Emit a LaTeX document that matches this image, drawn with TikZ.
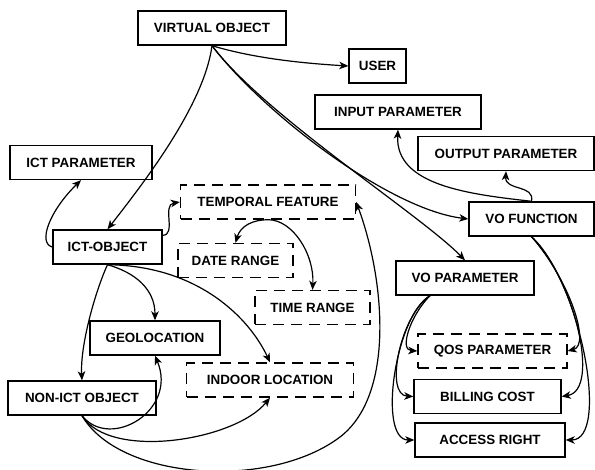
\documentclass[tikz,border=0pt]{standalone}
\usepackage{fontspec}
\setmainfont{Liberation Sans}
\usetikzlibrary{arrows.meta}

\begin{document}
\begin{tikzpicture}[x=1pt, y=-1pt,
    every node/.style={font=\fontsize{13.4}{16}\selectfont\bfseries},
    box/.style={draw, line width=1.4pt, minimum height=34pt, inner sep=0pt},
    dbox/.style={box, dash pattern=on 11pt off 7pt},
    link/.style={line width=1.2pt, -{Stealth[length=9pt, width=7.5pt, inset=2.5pt]}},
]
\useasboundingbox (0, 0) rectangle (595, 470);

% the objects
\node[box, minimum width=148pt] (vo) at (212, 28) {VIRTUAL OBJECT};
\node[box, minimum width=57pt] (user) at (377.5, 66) {USER};
\node[box, minimum width=166pt] (inp) at (398, 112) {INPUT PARAMETER};
\node[box, minimum width=176pt] (outp) at (506, 153.5) {OUTPUT PARAMETER};
\node[box, minimum width=142pt] (ictp) at (81, 162.5) {ICT PARAMETER};
\node[dbox, minimum width=175pt] (tf) at (268, 202) {TEMPORAL FEATURE};
\node[box, minimum width=125pt] (vof) at (531.5, 219) {VO FUNCTION};
\node[box, minimum width=109pt] (ict) at (107.5, 247) {ICT-OBJECT};
\node[dbox, minimum width=115pt] (date) at (235.5, 260.5) {DATE RANGE};
\node[dbox, minimum width=115pt] (time) at (312.5, 307.5) {TIME RANGE};
\node[box, minimum width=138pt] (vop) at (465, 278) {VO PARAMETER};
\node[box, minimum width=130pt] (geo) at (155, 338) {GEOLOCATION};
\node[dbox, minimum width=167pt] (indoor) at (270, 380) {INDOOR LOCATION};
\node[dbox, minimum width=149pt] (qos) at (492.5, 351) {QOS PARAMETER};
\node[box, minimum width=148pt] (nict) at (82, 398) {NON-ICT OBJECT};
\node[box, minimum width=147pt] (bill) at (487.5, 396.5) {BILLING COST};
\node[box, minimum width=150pt] (acc) at (490, 440) {ACCESS RIGHT};

% virtual object
\draw[link] (vo.south) .. controls +(40,12) and +(-50,-3) .. (user.west);
\draw[link] (vo.south) .. controls +(-8,60) and +(35,-45) .. (ict.north);
\draw[link] (vo.south) .. controls +(51,67) and +(-80,-10) .. (vof.west);
\draw[link] (vo.south) .. controls +(53,70) and +(-45,-46) .. (vop.north);

% ict-object and the temporal feature
\draw[link] (ict.west) .. controls +(-15,-4) and +(-31,30) .. (ictp.south);
\draw[link] (ict.12) .. controls +(14,0) and +(-18,3) .. (tf.west);
\draw[link] (tf.south) .. controls +(-15,0) and +(5,-17) .. (date.north);
\draw[link] (tf.south) .. controls +(25,0) and +(2,-35) .. (time.north);
\draw[link] (ict.south) .. controls +(-12,26) and +(-2,-35) .. (nict.north);
\draw[link] (ict.south) .. controls +(28,8) and +(0,-31) .. (geo.north);
\draw[link] (ict.south) .. controls +(92,1) and +(-20,-43) .. (indoor.north);

% non-ict object
\draw[link] (nict.south) .. controls +(28,35) and +(23,55) .. (geo.south);
\draw[link] (nict.south) .. controls +(28,45) and +(-35,43) .. (indoor.south);
\draw[link] (nict.south) .. controls +(38,65) and (270,490) .. (340,437)
    .. controls (395,395) and (385,280) .. (tf.east);

% vo function
\draw[link] (vof.north) .. controls +(-61.5,-7) and +(-3,56) .. (inp.south);
\draw[link] (vof.north) .. controls +(3.5,-17) and +(-1,20) .. (outp.south);
\draw[link] (vof.south) .. controls +(38.5,44) and +(23,-6) .. (qos.east);
\draw[link] (vof.south) .. controls +(43.5,44) and +(39,-6.5) .. (bill.east);
\draw[link] (vof.south) .. controls +(48.5,44) and +(45,0) .. (acc.east);

% vo parameter
\draw[link] ([xshift=-35pt]vop.south) .. controls +(-20,20) and +(-18,-1) .. (qos.west);
\draw[link] ([xshift=-35pt]vop.south) .. controls +(-30,20) and +(-29,-1.5) .. (bill.west);
\draw[link] ([xshift=-35pt]vop.south) .. controls +(-35,20) and +(-37,0) .. (acc.west);

\end{tikzpicture}
\end{document}
